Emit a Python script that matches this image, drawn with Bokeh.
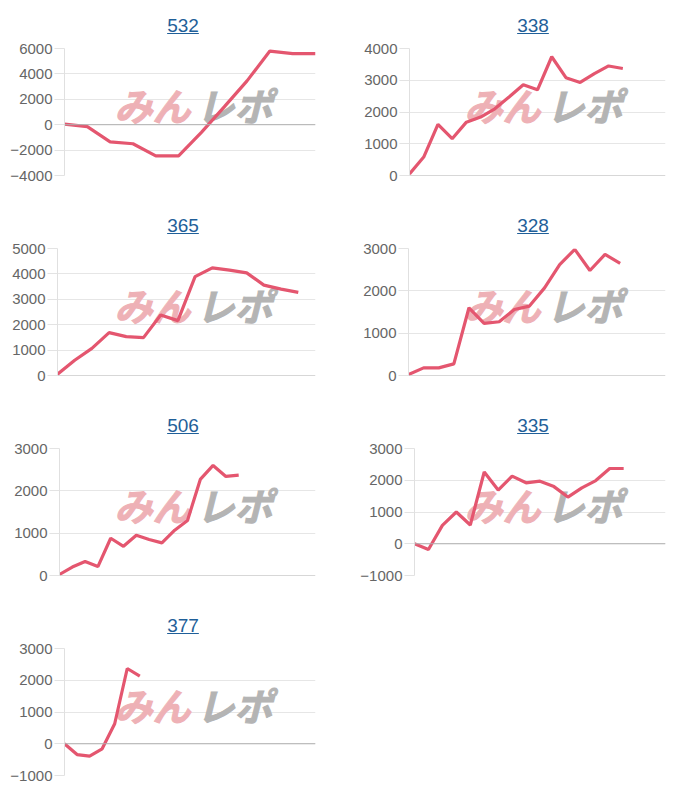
from bokeh.plotting import figure
from bokeh.layouts import column, row
from bokeh.models import Div, Range1d, FixedTicker, Span, Label
from bokeh.embed import file_html
from bokeh.resources import INLINE

# ---- data ----
titles = ["532", "338", "365", "328", "506", "335", "377"]

v532 = [50, -150, -1350, -1500, -2450, -2450, -600, 1400, 3450, 5800, 5600, 5600]
v338 = [50, 580, 1610, 1160, 1680, 1840, 2100, 2470, 2860, 2700, 3740, 3080, 2930, 3210, 3450, 3370]
v365 = [50, 600, 1070, 1690, 1530, 1490, 2380, 2160, 3890, 4240, 4150, 4040, 3560, 3400, 3270]
v328 = [25, 180, 180, 275, 1600, 1230, 1270, 1560, 1640, 2070, 2620, 2980, 2480, 2860, 2650]
v506 = [25, 200, 330, 210, 880, 690, 950, 850, 770, 1070, 1300, 2270, 2600, 2340, 2370]
v335 = [0, -180, 580, 1000, 590, 2260, 1690, 2130, 1920, 1970, 1800, 1470, 1760, 1990, 2370, 2370]
v377 = [0, -340, -390, -160, 630, 2370, 2130]

series = [v532, v338, v365, v328, v506, v335, v377]

# number of x-axis slots (labels) per chart
label_counts = [12, 19, 16, 18, 21, 19, 21]

ticks532 = [-4000, -2000, 0, 2000, 4000, 6000]
ticks338 = [0, 1000, 2000, 3000, 4000]
ticks365 = [0, 1000, 2000, 3000, 4000, 5000]
ticks328 = [0, 1000, 2000, 3000]
ticks506 = [0, 1000, 2000, 3000]
ticks335 = [-1000, 0, 1000, 2000, 3000]
ticks377 = [-1000, 0, 1000, 2000, 3000]
tick_sets = [ticks532, ticks338, ticks365, ticks328, ticks506, ticks335, ticks377]

# ---- styling / layout ----
frame_left = [64, 59, 57, 58, 59, 64, 64]
CELL_W, DIV_H, FIG_H = 350, 40, 160
TOP, BOTTOM, RIGHT = 8, 25, 35
FRAME_H = FIG_H - TOP - BOTTOM
LINE = "#e4566f"
FONT = "Liberation Sans"


def cell(title, values, nlab, ticks, fl):
    html = (
        '<div style="position:relative;width:%dpx;height:%dpx;">'
        '<a style="position:absolute;left:0;top:12px;width:%dpx;text-align:center;'
        "font-family:'Liberation Sans',Arial,sans-serif;font-size:19px;color:#1f5f99;"
        'text-decoration:underline;">%s</a></div>' % (CELL_W, DIV_H, CELL_W + 16, title)
    )
    div = Div(text=html, width=CELL_W, height=DIV_H, margin=0)

    p = figure(width=CELL_W, height=FIG_H, output_backend="svg", toolbar_location=None,
               x_range=Range1d(0, nlab - 1), y_range=Range1d(ticks[0], ticks[-1]),
               min_border_left=fl, min_border_right=RIGHT,
               min_border_top=TOP, min_border_bottom=BOTTOM, margin=0)
    p.outline_line_color = None
    p.background_fill_color = "white"
    p.border_fill_color = "white"
    p.xaxis.visible = False
    p.xgrid.visible = False
    p.ygrid.grid_line_color = "#e6e6e6"
    p.ygrid.ticker = FixedTicker(ticks=ticks)

    ax = p.yaxis[0]
    ax.ticker = FixedTicker(ticks=ticks)
    ax.major_label_text_font = FONT
    ax.major_label_text_font_size = "15px"
    ax.major_label_text_color = "#666666"
    ax.major_tick_out = 10
    ax.major_tick_in = 0
    ax.minor_tick_line_color = None
    ax.major_tick_line_color = "#e3e3e3"
    ax.axis_line_color = "#e0e0e0"
    ax.major_label_standoff = 2

    p.add_layout(Span(location=0, dimension="width", line_color="#b0b0b0", line_width=1))

    # watermark (みんレポ logo)
    wy = FRAME_H - 56
    p.add_layout(Label(x=114 - fl, y=wy, x_units="screen", y_units="screen", text="みん",
                       text_font="Noto Sans CJK JP", text_font_style="bold italic",
                       text_font_size="38px", text_color="#eeb1b6",
                       text_outline_color="#eeb1b6",
                       text_baseline="middle", level="underlay"))
    p.add_layout(Label(x=196 - fl, y=wy, x_units="screen", y_units="screen", text="レポ",
                       text_font="Noto Sans CJK JP", text_font_style="bold italic",
                       text_font_size="38px", text_color="#b4b4b4",
                       text_outline_color="#b4b4b4",
                       text_baseline="middle", level="underlay"))

    p.line(x=list(range(len(values))), y=values, line_color=LINE, line_width=3.2)
    return column(div, p, spacing=0, margin=0)


cells = [cell(t, v, n, tk, fl) for t, v, n, tk, fl in
         zip(titles, series, label_counts, tick_sets, frame_left)]

layout = column(
    row(cells[0], cells[1], spacing=0, margin=0),
    row(cells[2], cells[3], spacing=0, margin=0),
    row(cells[4], cells[5], spacing=0, margin=0),
    row(cells[6], spacing=0, margin=0),
    spacing=0, margin=0,
)

open("out.html", "w").write(file_html(layout, INLINE))
